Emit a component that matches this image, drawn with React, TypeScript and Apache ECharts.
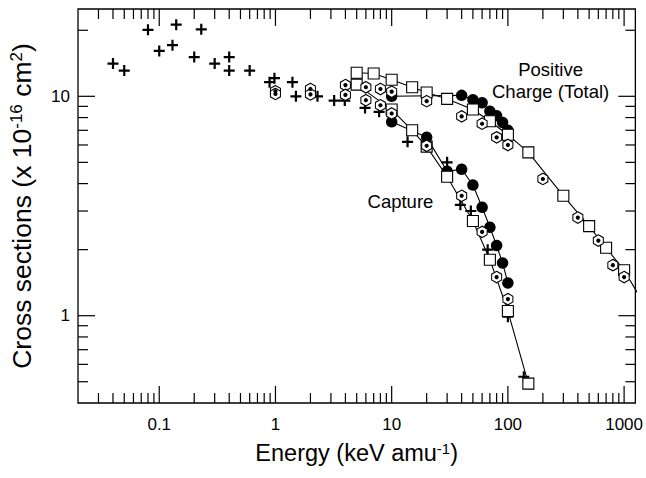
import React, { useEffect, useRef } from "react";
import * as echarts from "echarts";

// ---- data (x: keV/amu, y: 10^-16 cm^2) ----
const crossPoints: [number, number][] = [
  [0.04, 14.1], [0.05, 13.1], [0.08, 20.1], [0.1, 16.1], [0.13, 17.1], [0.14, 21.2],
  [0.2, 15.1], [0.23, 20.2], [0.3, 14.1], [0.4, 15.1], [0.4, 13.1], [0.6, 13.1],
  [0.89, 11.6], [0.98, 12.1], [1.4, 11.6], [1.5, 10.0], [2.3, 10.0], [3.2, 9.56],
  [3.95, 9.56], [5.9, 8.85], [7.8, 8.5], [13.7, 6.2], [30, 5.0], [39, 3.2], [48, 3.0],
  [67, 2.0], [100, 0.99], [137, 0.527],
];

const hexTotal: [number, number][] = [
  [1, 10.55], [2, 10.8], [4, 11.25], [6, 11.0], [8, 10.8], [10, 10.5], [20, 9.5],
  [40, 8.1], [60, 7.5], [80, 6.5], [100, 6.0], [200, 4.2], [400, 2.8], [600, 2.2],
  [800, 1.7], [1000, 1.5],
];
const hexCapture: [number, number][] = [
  [1, 10.25], [2, 10.2], [4, 10.15], [6, 9.6], [8, 9.1], [10, 8.35], [20, 5.95],
  [40, 3.52], [60, 2.41], [80, 1.5], [100, 1.19],
];

const squareTotal: [number, number][] = [
  [5, 12.8], [7, 12.7], [10, 11.9], [15, 11.0], [20, 10.4], [30, 9.73], [50, 8.7],
  [70, 7.7], [100, 6.68], [150, 5.55], [300, 3.52], [500, 2.56], [700, 2.04], [1000, 1.61],
];
const squareTotalLineTail: [number, number][] = [[1500, 1.12]];
const squareCapture: [number, number][] = [
  [5, 11.3], [10, 8.7], [15, 7.0], [20, 5.9], [30, 4.3], [50, 2.7], [70, 1.8],
  [100, 1.05], [150, 0.49],
];

const circleTotal: [number, number][] = [
  [10, 10.0], [40, 10.1], [50, 9.65], [60, 9.35], [70, 8.55], [80, 8.15], [90, 7.6], [100, 7.0],
];
const circleCapture: [number, number][] = [
  [10, 7.65], [20, 6.5], [30, 4.55], [40, 4.65], [50, 3.94], [60, 3.12], [70, 2.53],
  [80, 2.09], [90, 1.74], [100, 1.41],
];

const annotations = [
  { x: 233, y: 11.8, text: "Positive\nCharge (Total)" },
  { x: 11.9, y: 3.33, text: "Capture" },
];

const xRange: [number, number] = [0.02, 1250];
const yRange: [number, number] = [0.4, 25];
const xTickValues: number[] = [
  0.03, 0.04, 0.05, 0.06, 0.07, 0.08, 0.09, 0.1,
  0.2, 0.3, 0.4, 0.5, 0.6, 0.7, 0.8, 0.9, 1,
  2, 3, 4, 5, 6, 7, 8, 9, 10,
  20, 30, 40, 50, 60, 70, 80, 90, 100,
  200, 300, 400, 500, 600, 700, 800, 900, 1000,
];
const yTickValues: number[] = [0.5, 0.6, 0.7, 0.8, 0.9, 1, 2, 3, 4, 5, 6, 7, 8, 9, 10, 20];

const FONT = "'Liberation Sans', Arial, Helvetica, sans-serif";

const isDecade = (v: number) => {
  const l = Math.log10(v);
  return Math.abs(l - Math.round(l)) < 1e-6;
};
const fmtLog = (v: number) => {
  if (!isDecade(v)) return "";
  const r = Math.round(Math.log10(v));
  return r < 0 ? Math.pow(10, r).toFixed(-r) : String(Math.round(Math.pow(10, r)));
};

const tickRender = (axis: "x" | "y") => (params: any, api: any) => {
  const v = api.value(axis === "x" ? 0 : 1);
  const cs = params.coordSys;
  const len = isDecade(v) ? 17 : 10;
  const style = { stroke: "#000", lineWidth: 1.2 };
  if (axis === "x") {
    const px = api.coord([v, 1])[0];
    const b = cs.y + cs.height;
    const t = cs.y;
    return {
      type: "group",
      children: [
        { type: "line", shape: { x1: px, y1: b, x2: px, y2: b - len }, style },
        { type: "line", shape: { x1: px, y1: t, x2: px, y2: t + len }, style },
      ],
    };
  }
  const py = api.coord([1, v])[1];
  const l = cs.x;
  const r = cs.x + cs.width;
  return {
    type: "group",
    children: [
      { type: "line", shape: { x1: l, y1: py, x2: l + len, y2: py }, style },
      { type: "line", shape: { x1: r, y1: py, x2: r - len, y2: py }, style },
    ],
  };
};

const CROSS = "path://M4,0H6V4H10V6H6V10H4V6H0V4H4Z";
const HEX = "path://M5,0L9.33,2.5L9.33,7.5L5,10L0.67,7.5L0.67,2.5Z";

const lineSeries = (data: [number, number][]) => ({
  type: "line",
  data,
  symbol: "none",
  clip: true,
  silent: true,
  z: 1,
  lineStyle: { color: "#000", width: 1.1, opacity: 1 },
  emphasis: { disabled: true },
});

export default function App() {
  const ref = useRef<HTMLDivElement>(null);
  useEffect(() => {
    document.body.style.margin = "0";
    if (!ref.current) return;
    const chart = echarts.init(ref.current, undefined, { renderer: "svg" });
    const option: any = {
      animation: false,
      backgroundColor: "#fff",
      grid: {
        left: 77,
        right: 8,
        top: 9,
        bottom: 75,
        show: true,
        borderColor: "#000",
        borderWidth: 1.3,
        backgroundColor: "transparent",
      },
      xAxis: {
        type: "log",
        logBase: 10,
        min: xRange[0],
        max: xRange[1],
        axisLine: { show: false },
        axisTick: { show: false },
        splitLine: { show: false },
        axisLabel: {
          formatter: fmtLog,
          interval: 0,
          fontSize: 17,
          fontFamily: FONT,
          color: "#000",
          margin: 13,
          showMinLabel: true,
          showMaxLabel: true,
        },
        name: "{n|Energy (keV amu}{s|-1}{n|)}",
        nameLocation: "middle",
        nameGap: 38,
        nameTextStyle: {
          color: "#000",
          fontFamily: FONT,
          fontSize: 23.5,
          rich: {
            n: { fontSize: 23.5, fontFamily: FONT, color: "#000" },
            s: { fontSize: 15, fontFamily: FONT, color: "#000", verticalAlign: "top" },
          },
        },
      },
      yAxis: {
        type: "log",
        logBase: 10,
        min: yRange[0],
        max: yRange[1],
        axisLine: { show: false },
        axisTick: { show: false },
        splitLine: { show: false },
        axisLabel: {
          formatter: fmtLog,
          interval: 0,
          fontSize: 17,
          fontFamily: FONT,
          color: "#000",
          margin: 8,
        },
        name: "{n|Cross sections (x 10}{s|-16}{n| cm}{s|2}{n|)}",
        nameLocation: "middle",
        nameRotate: 90,
        nameGap: 43,
        nameTextStyle: {
          color: "#000",
          fontFamily: FONT,
          fontSize: 26.5,
          rich: {
            n: { fontSize: 26.5, fontFamily: FONT, color: "#000" },
            s: { fontSize: 17, fontFamily: FONT, color: "#000", verticalAlign: "top" },
          },
        },
      },
      series: [
        lineSeries([...squareTotal, ...squareTotalLineTail]),
        lineSeries(squareCapture),
        lineSeries(circleTotal),
        lineSeries(circleCapture),
        {
          type: "scatter",
          data: crossPoints,
          symbol: CROSS,
          symbolSize: 11,
          itemStyle: { color: "#000", opacity: 1 },
          silent: true,
          z: 2,
        },
        {
          type: "scatter",
          data: [...circleTotal, ...circleCapture],
          symbol: "circle",
          symbolSize: 11.5,
          itemStyle: { color: "#000", opacity: 1 },
          silent: true,
          z: 3,
        },
        {
          type: "scatter",
          data: [...squareTotal, ...squareCapture],
          symbol: "rect",
          symbolSize: 11,
          itemStyle: { color: "#fff", borderColor: "#000", borderWidth: 1.1, opacity: 1 },
          silent: true,
          z: 4,
        },
        {
          type: "scatter",
          data: [...hexTotal, ...hexCapture],
          symbol: HEX,
          symbolSize: [10, 11.5],
          symbolKeepAspect: false,
          itemStyle: { color: "#fff", borderColor: "#000", borderWidth: 1.1, opacity: 1 },
          silent: true,
          z: 5,
        },
        {
          type: "scatter",
          data: [...hexTotal, ...hexCapture],
          symbol: "circle",
          symbolSize: 4.2,
          itemStyle: { color: "#000", opacity: 1 },
          silent: true,
          z: 6,
        },
        {
          type: "custom",
          data: xTickValues.map((v) => [v, 1]),
          renderItem: tickRender("x"),
          clip: false,
          silent: true,
          z: 7,
        },
        {
          type: "custom",
          data: yTickValues.map((v) => [1, v]),
          renderItem: tickRender("y"),
          clip: false,
          silent: true,
          z: 7,
        },
        {
          type: "scatter",
          data: annotations.map((a) => ({ value: [a.x, a.y], name: a.text })),
          symbolSize: 0.001,
          itemStyle: { color: "rgba(0,0,0,0)", opacity: 1 },
          silent: true,
          z: 8,
          label: {
            show: true,
            position: "inside",
            formatter: "{b}",
            fontSize: 18.5,
            lineHeight: 22,
            fontFamily: FONT,
            color: "#000",
            opacity: 1,
            align: "center",
          },
        },
      ],
    };
    chart.setOption(option);
    return () => chart.dispose();
  }, []);
  return <div ref={ref} style={{ width: 646, height: 478 }} />;
}
